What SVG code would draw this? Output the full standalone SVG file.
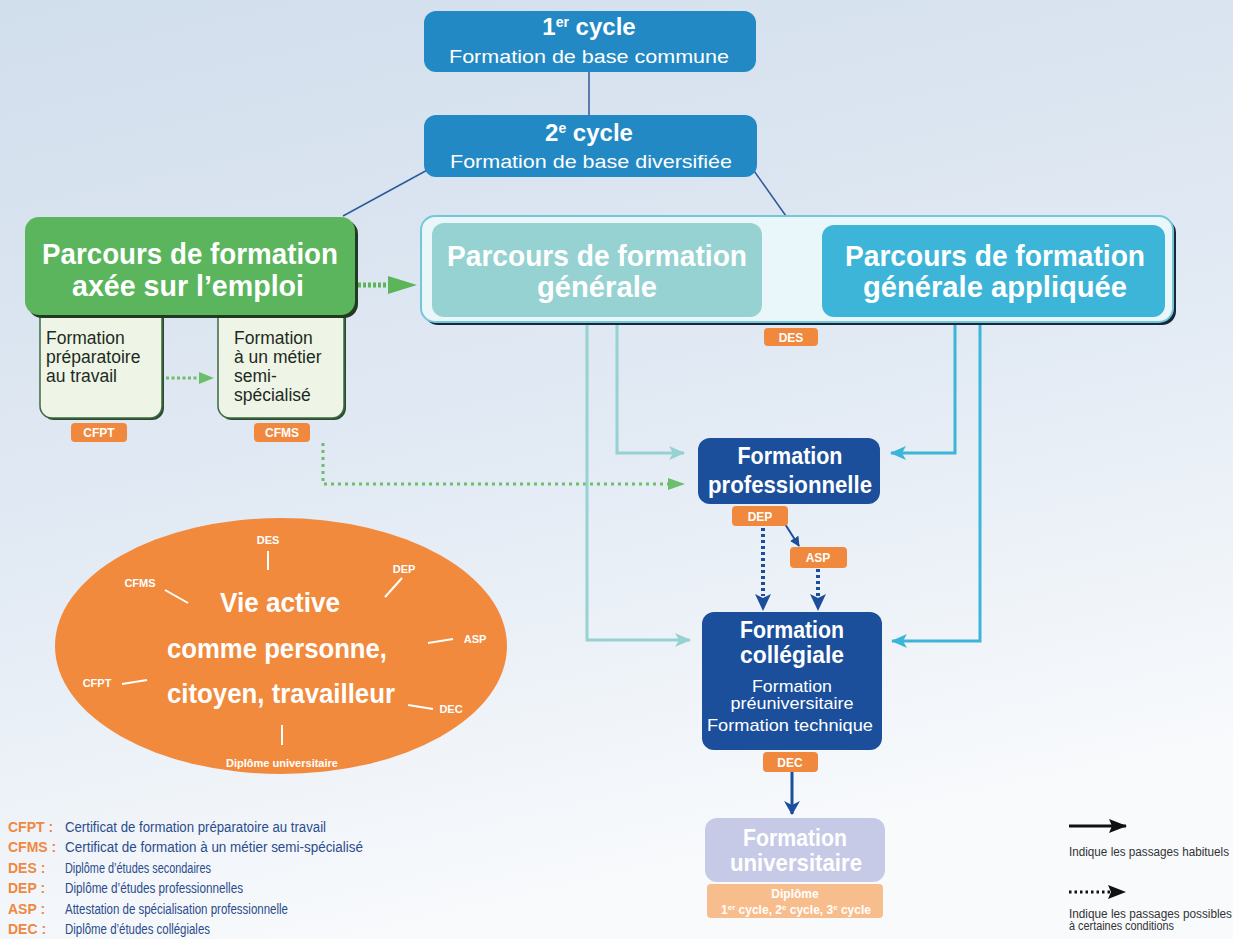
<svg xmlns="http://www.w3.org/2000/svg" width="1233" height="939" viewBox="0 0 1233 939">
<defs>
<linearGradient id="bg" x1="0" y1="0" x2="0.3" y2="1">
<stop offset="0" stop-color="#d1deec"/>
<stop offset="0.55" stop-color="#e2eaf4"/>
<stop offset="1" stop-color="#f8fafc"/>
</linearGradient>
<marker id="ahTeal" markerUnits="userSpaceOnUse" markerWidth="16" markerHeight="14" refX="15" refY="7" orient="auto"><path d="M0,0 L16,7 L0,14 L4,7 Z" fill="#96d2d2"/></marker>
<marker id="ahBlue" markerUnits="userSpaceOnUse" markerWidth="16" markerHeight="14" refX="15" refY="7" orient="auto"><path d="M0,0 L16,7 L0,14 L4,7 Z" fill="#3db5d8"/></marker>
<marker id="ahNavy" markerUnits="userSpaceOnUse" markerWidth="14" markerHeight="16" refX="13" refY="8" orient="auto"><path d="M0,0 L14,8 L0,16 L4,8 Z" fill="#1b4f9c"/></marker>
<marker id="ahNavyS" markerUnits="userSpaceOnUse" markerWidth="10" markerHeight="10" refX="9" refY="5" orient="auto"><path d="M0,0 L10,5 L0,10 Z" fill="#1b4f9c"/></marker>
<marker id="ahBlack" markerUnits="userSpaceOnUse" markerWidth="18" markerHeight="14" refX="17" refY="7" orient="auto"><path d="M0,0 L18,7 L0,14 L3,7 Z" fill="#111"/></marker>
</defs>
<style>
.hb{font-family:"Liberation Sans",Arial,sans-serif;font-weight:bold;fill:#fff;text-anchor:middle}
.hr{font-family:"Liberation Sans",Arial,sans-serif;fill:#fff;text-anchor:middle}
.sub{font-family:"Liberation Sans",Arial,sans-serif;font-size:17.5px;fill:#1e2a1e}
.badge{fill:#f0883e}
.bt{font-family:"Liberation Sans",Arial,sans-serif;font-weight:bold;font-size:12px;fill:#fff;text-anchor:middle}
.el{font-family:"Liberation Sans",Arial,sans-serif;font-weight:bold;font-size:11px;fill:#fff;text-anchor:middle}
.elt{stroke:#fff;stroke-width:2}
.ab{font-family:"Liberation Sans",Arial,sans-serif;font-weight:bold;font-size:14px;fill:#f0883e}
.ds{font-family:"Liberation Sans",Arial,sans-serif;font-size:14px;fill:#2b4c8c}
.lg{font-family:"Liberation Sans",Arial,sans-serif;font-size:12px;fill:#333}
.cyc{fill:#2389c4}
.navy{fill:#1b4f9c}
</style>
<rect x="0" y="0" width="1233" height="939" fill="url(#bg)"/>

<g id="connectors" fill="none">
<line x1="589" y1="72" x2="589" y2="115" stroke="#2d5a9a" stroke-width="1.5"/>
<line x1="431" y1="168" x2="343" y2="216" stroke="#2d5a9a" stroke-width="1.5"/>
<line x1="752" y1="168" x2="786" y2="216" stroke="#2d5a9a" stroke-width="1.5"/>
<line x1="358" y1="285" x2="390" y2="285" stroke="#5db55a" stroke-width="5" stroke-dasharray="3,2"/>
<path d="M388,276 L417,285 L388,294 Z" fill="#5db55a"/>
<line x1="166" y1="378" x2="200" y2="378" stroke="#6cbf6a" stroke-width="3" stroke-dasharray="3,2.5"/>
<path d="M199,372 L214,378 L199,384 Z" fill="#6cbf6a"/>
<polyline points="323,443 323,484 670,484" stroke="#6cbf6a" stroke-width="3" stroke-dasharray="3,4"/>
<path d="M668,478 L685,484 L668,490 Z" fill="#6cbf6a"/>
<line x1="763" y1="260" x2="805" y2="260" stroke="#96d2d2" stroke-width="6"/>
<path d="M800,250 L821,260 L800,270 Z" fill="#96d2d2"/>
<line x1="822" y1="288" x2="780" y2="288" stroke="#3db5d8" stroke-width="6"/>
<path d="M784,278 L763,288 L784,298 Z" fill="#3db5d8"/>
<polyline points="617,318 617,453 684,453" stroke="#96d2d2" stroke-width="3" marker-end="url(#ahTeal)"/>
<polyline points="587,318 587,640 690,640" stroke="#96d2d2" stroke-width="3" marker-end="url(#ahTeal)"/>
<polyline points="955,318 955,453 891,453" stroke="#3db5d8" stroke-width="3" marker-end="url(#ahBlue)"/>
<polyline points="980,318 980,641 892,641" stroke="#3db5d8" stroke-width="3" marker-end="url(#ahBlue)"/>
<line x1="785" y1="524" x2="799" y2="546" stroke="#1b4f9c" stroke-width="2" marker-end="url(#ahNavyS)"/>
<line x1="763" y1="528" x2="763" y2="596" stroke="#1b4f9c" stroke-width="4" stroke-dasharray="3,3"/>
<path d="M755,594 L763,611 L771,594 L763,598 Z" fill="#1b4f9c"/>
<line x1="818" y1="569" x2="818" y2="596" stroke="#1b4f9c" stroke-width="4" stroke-dasharray="3,3"/>
<path d="M810,594 L818,611 L826,594 L818,598 Z" fill="#1b4f9c"/>
<line x1="792" y1="772" x2="792" y2="814" stroke="#1b4f9c" stroke-width="3" marker-end="url(#ahNavy)"/>
</g>

<g id="cycle1">
<rect x="424" y="11" width="332" height="61" rx="12" class="cyc"/>
<text x="589" y="35" class="hb" font-size="24">1<tspan font-size="14" dy="-8">er</tspan><tspan dy="8"> cycle</tspan></text>
<text x="589" y="63" class="hr" font-size="19" textLength="280" lengthAdjust="spacingAndGlyphs">Formation de base commune</text>
</g>

<g id="cycle2">
<rect x="424" y="115" width="333" height="62" rx="12" class="cyc"/>
<text x="589" y="141" class="hb" font-size="24">2<tspan font-size="14" dy="-8">e</tspan><tspan dy="8"> cycle</tspan></text>
<text x="591" y="168" class="hr" font-size="19" textLength="282" lengthAdjust="spacingAndGlyphs">Formation de base diversifiée</text>
</g>

<g id="emploi">
<rect x="42" y="302" width="122" height="118" rx="12" fill="#2b4a2e"/>
<rect x="40" y="300" width="122" height="118" rx="12" fill="#eef5e6" stroke="#3d6a40" stroke-width="1.5"/>
<rect x="220" y="302" width="126" height="118" rx="12" fill="#2b4a2e"/>
<rect x="218" y="300" width="126" height="118" rx="12" fill="#eef5e6" stroke="#3d6a40" stroke-width="1.5"/>
<rect x="28" y="220" width="330" height="98" rx="14" fill="#223a24"/>
<rect x="25" y="217" width="330" height="98" rx="14" fill="#5ab55c"/>
<text x="190" y="264" class="hb" font-size="29" textLength="296" lengthAdjust="spacingAndGlyphs">Parcours de formation</text>
<text x="188" y="296" class="hb" font-size="29" textLength="232" lengthAdjust="spacingAndGlyphs">axée sur l’emploi</text>
<text class="sub"><tspan x="46" y="344">Formation</tspan><tspan x="46" y="363">préparatoire</tspan><tspan x="46" y="382">au travail</tspan></text>
<text class="sub"><tspan x="234" y="344">Formation</tspan><tspan x="234" y="363">à un métier</tspan><tspan x="234" y="382">semi-</tspan><tspan x="234" y="401">spécialisé</tspan></text>
</g>

<g id="badge-cfpt"><rect x="71" y="423" width="56" height="19" rx="4" class="badge"/><text x="99" y="437" class="bt">CFPT</text></g>
<g id="badge-cfms"><rect x="254" y="423" width="56" height="19" rx="4" class="badge"/><text x="282" y="437" class="bt">CFMS</text></g>

<g id="general-container">
<rect x="424" y="219" width="752" height="106" rx="14" fill="#16283a"/>
<rect x="421" y="216" width="752" height="106" rx="14" fill="#e9f6fa" stroke="#74c6d8" stroke-width="2"/>
</g>

<g id="generale">
<rect x="432" y="223" width="330" height="94" rx="12" fill="#96d2d2"/>
<text x="597" y="266" class="hb" font-size="30" textLength="300" lengthAdjust="spacingAndGlyphs">Parcours de formation</text>
<text x="597" y="297" class="hb" font-size="30" textLength="120" lengthAdjust="spacingAndGlyphs">générale</text>
</g>

<g id="appliquee">
<rect x="822" y="225" width="343" height="92" rx="12" fill="#3db5d8"/>
<text x="995" y="266" class="hb" font-size="30" textLength="300" lengthAdjust="spacingAndGlyphs">Parcours de formation</text>
<text x="995" y="297" class="hb" font-size="30" textLength="264" lengthAdjust="spacingAndGlyphs">générale appliquée</text>
</g>

<g id="badge-des"><rect x="764" y="328" width="54" height="18" rx="4" class="badge"/><text x="791" y="342" class="bt">DES</text></g>

<g id="pro">
<rect x="698" y="438" width="182" height="66" rx="12" class="navy"/>
<text x="790" y="464" class="hb" font-size="23" textLength="105" lengthAdjust="spacingAndGlyphs">Formation</text>
<text x="790" y="493" class="hb" font-size="23" textLength="164" lengthAdjust="spacingAndGlyphs">professionnelle</text>
</g>
<g id="badge-dep"><rect x="732" y="506" width="56" height="20" rx="4" class="badge"/><text x="760" y="521" class="bt">DEP</text></g>
<g id="badge-asp"><rect x="790" y="547" width="57" height="21" rx="4" class="badge"/><text x="818" y="562" class="bt">ASP</text></g>

<g id="collegiale">
<rect x="702" y="612" width="180" height="138" rx="12" class="navy"/>
<text x="792" y="638" class="hb" font-size="23" textLength="104" lengthAdjust="spacingAndGlyphs">Formation</text>
<text x="792" y="663" class="hb" font-size="23" textLength="104" lengthAdjust="spacingAndGlyphs">collégiale</text>
<text x="792" y="692" class="hr" font-size="17" textLength="80" lengthAdjust="spacingAndGlyphs">Formation</text>
<text x="792" y="709" class="hr" font-size="17" textLength="123" lengthAdjust="spacingAndGlyphs">préuniversitaire</text>
<text x="790" y="731" class="hr" font-size="17" textLength="166" lengthAdjust="spacingAndGlyphs">Formation technique</text>
</g>
<g id="badge-dec"><rect x="763" y="752" width="55" height="20" rx="4" class="badge"/><text x="790" y="767" class="bt">DEC</text></g>

<g id="universitaire">
<rect x="705" y="818" width="180" height="64" rx="12" fill="#c6cae6"/>
<text x="795" y="846" class="hb" font-size="23" textLength="104" lengthAdjust="spacingAndGlyphs">Formation</text>
<text x="796" y="871" class="hb" font-size="23" textLength="132" lengthAdjust="spacingAndGlyphs">universitaire</text>
<rect x="707" y="884" width="176" height="34" rx="4" fill="#f8bd8c"/>
<text x="795" y="898" class="bt" font-size="12">Diplôme</text>
<text x="796" y="914" class="bt" font-size="12">1<tspan font-size="8" dy="-4">er</tspan><tspan dy="4"> cycle, 2</tspan><tspan font-size="8" dy="-4">e</tspan><tspan dy="4"> cycle, 3</tspan><tspan font-size="8" dy="-4">e</tspan><tspan dy="4"> cycle</tspan></text>
</g>

<g id="vie-active">
<ellipse cx="281" cy="646" rx="226" ry="128" fill="#f28a3e"/>
<text x="280" y="612" class="hb" font-size="28" textLength="120" lengthAdjust="spacingAndGlyphs" fill="#fff8f0">Vie active</text>
<text x="277" y="658" class="hb" font-size="28" textLength="220" lengthAdjust="spacingAndGlyphs">comme personne,</text>
<text x="281" y="703" class="hb" font-size="28" textLength="228" lengthAdjust="spacingAndGlyphs">citoyen, travailleur</text>
<text x="268" y="544" class="el">DES</text><line x1="268" y1="551" x2="268" y2="570" class="elt"/>
<text x="404" y="573" class="el">DEP</text><line x1="385" y1="597" x2="402" y2="578" class="elt"/>
<text x="140" y="587" class="el">CFMS</text><line x1="165" y1="590" x2="188" y2="603" class="elt"/>
<text x="475" y="643" class="el">ASP</text><line x1="428" y1="643" x2="453" y2="639" class="elt"/>
<text x="97" y="687" class="el">CFPT</text><line x1="122" y1="684" x2="147" y2="680" class="elt"/>
<text x="451" y="713" class="el">DEC</text><line x1="408" y1="705" x2="433" y2="709" class="elt"/>
<text x="282" y="767" class="el">Diplôme universitaire</text><line x1="282" y1="725" x2="282" y2="745" class="elt"/>
</g>

<g id="legend-sigles">
<text x="8" y="832" class="ab">CFPT :</text><text x="65" y="832" class="ds" textLength="261" lengthAdjust="spacingAndGlyphs">Certificat de formation préparatoire au travail</text>
<text x="8" y="852" class="ab">CFMS :</text><text x="65" y="852" class="ds" textLength="298" lengthAdjust="spacingAndGlyphs">Certificat de formation à un métier semi-spécialisé</text>
<text x="8" y="873" class="ab">DES :</text><text x="65" y="873" class="ds" textLength="146" lengthAdjust="spacingAndGlyphs">Diplôme d’études secondaires</text>
<text x="8" y="893" class="ab">DEP :</text><text x="65" y="893" class="ds" textLength="178" lengthAdjust="spacingAndGlyphs">Diplôme d’études professionnelles</text>
<text x="8" y="914" class="ab">ASP :</text><text x="65" y="914" class="ds" textLength="223" lengthAdjust="spacingAndGlyphs">Attestation de spécialisation professionnelle</text>
<text x="8" y="934" class="ab">DEC :</text><text x="65" y="934" class="ds" textLength="145" lengthAdjust="spacingAndGlyphs">Diplôme d’études collégiales</text>
</g>

<g id="legend-arrows">
<line x1="1069" y1="826" x2="1126" y2="826" stroke="#111" stroke-width="3" marker-end="url(#ahBlack)"/>
<text x="1069" y="856" class="lg" textLength="160" lengthAdjust="spacingAndGlyphs">Indique les passages habituels</text>
<line x1="1069" y1="892" x2="1112" y2="892" stroke="#111" stroke-width="3" stroke-dasharray="2.5,3"/>
<path d="M1108,885 L1126,892 L1108,899 L1111,892 Z" fill="#111"/>
<text x="1069" y="918" class="lg" textLength="163" lengthAdjust="spacingAndGlyphs">Indique les passages possibles</text>
<text x="1069" y="930" class="lg" textLength="105" lengthAdjust="spacingAndGlyphs">à certaines conditions</text>
</g>
</svg>
